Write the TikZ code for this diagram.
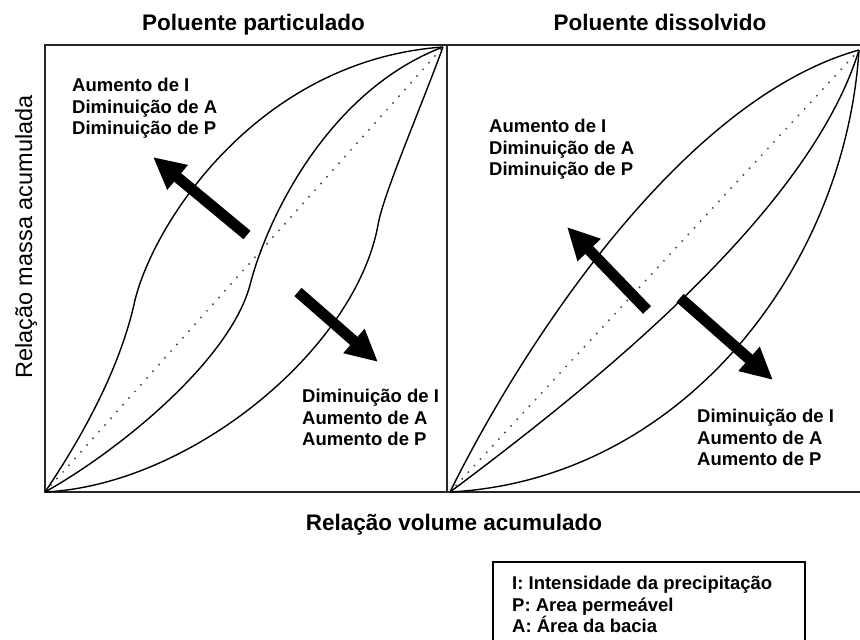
\documentclass[tikz,border=0pt]{standalone}
\usepackage{fontspec}
\setmainfont{Liberation Sans}
\usetikzlibrary{arrows.meta}
\begin{document}
\begin{tikzpicture}[x=1pt,y=-1pt,
  frame/.style={line width=1.8pt, draw=black!85},
  curve/.style={line width=1.4pt},
  diag/.style={line width=2.2pt, dash pattern=on 0pt off 9pt, line cap=round, draw=black!70},
  bigarrow/.style={line width=11pt, -{Triangle[length=32pt,width=30pt]}},
  lab/.style={font=\fontsize{18.5}{21.5}\selectfont\bfseries, align=left, anchor=north west, inner sep=0pt},
  ttl/.style={font=\fontsize{22.5}{26}\selectfont\bfseries, inner sep=0pt, anchor=base}]
\useasboundingbox (0,0) rectangle (860,640);
\clip (0,0) rectangle (860,640);

% corners
\coordinate (L0) at (45,492);
\coordinate (L1) at (443,47);
\coordinate (R0) at (450,492);
\coordinate (R1) at (859,50);

% frames
\draw[frame] (45,45) rectangle (447,492);
\draw[frame] (447,45) rectangle (864,492);

% titles
\node[ttl] (t1) at (253.5,30) {Poluente particulado};
\node[ttl] (t2) at (660,30) {Poluente dissolvido};
\node[ttl] (xl) at (454,530) {Relação volume acumulado};
\node[font=\fontsize{23.5}{26}\selectfont, inner sep=0pt, anchor=base, rotate=90] (yl) at (32,237) {Relação massa acumulada};

% left panel curves
\draw[diag] (L0) -- (L1);
\draw[curve] (L0) .. controls (80,440) and (120,370) .. (135,300)
                  .. controls (155,220) and (260,60) .. (L1);
\draw[curve] (L0) .. controls (120,450) and (230,360) .. (250,285)
                  .. controls (268,215) and (330,90) .. (L1);
\draw[curve] (L0) .. controls (190,485) and (355,350) .. (378,225)
                  .. controls (383,195) and (420,110) .. (L1);

% right panel curves
\draw[diag] (R0) -- (R1);
\draw[curve] (R0) .. controls (520,350) and (680,100) .. (R1);
\draw[curve] (R0) .. controls (600,380) and (810,210) .. (R1);
\draw[curve] (R0) .. controls (680,480) and (845,270) .. (R1);

% arrows
\coordinate (a1s) at (247,235); \coordinate (a1e) at (153,157);
\coordinate (a2s) at (298,292); \coordinate (a2e) at (378,362);
\coordinate (a3s) at (647,310); \coordinate (a3e) at (567,227);
\coordinate (a4s) at (680,298); \coordinate (a4e) at (773,380);
\draw[bigarrow] (a1s) -- (a1e);
\draw[bigarrow] (a2s) -- (a2e);
\draw[bigarrow] (a3s) -- (a3e);
\draw[bigarrow] (a4s) -- (a4e);

% labels
\node[lab] (u1) at (72,78) {Aumento de I\\Diminuição de A\\Diminuição de P};
\node[lab] (d1) at (302,389) {Diminuição de I\\Aumento de A\\Aumento de P};
\node[lab] (u2) at (489,119) {Aumento de I\\Diminuição de A\\Diminuição de P};
\node[lab] (d2) at (697,409) {Diminuição de I\\Aumento de A\\Aumento de P};

% legend
\draw[line width=1.5pt] (493,562) rectangle (805,650);
\node[lab] (leg) at (512,576) {I: Intensidade da precipitação\\P: Area permeável\\A: Área da bacia};
\end{tikzpicture}
\end{document}
